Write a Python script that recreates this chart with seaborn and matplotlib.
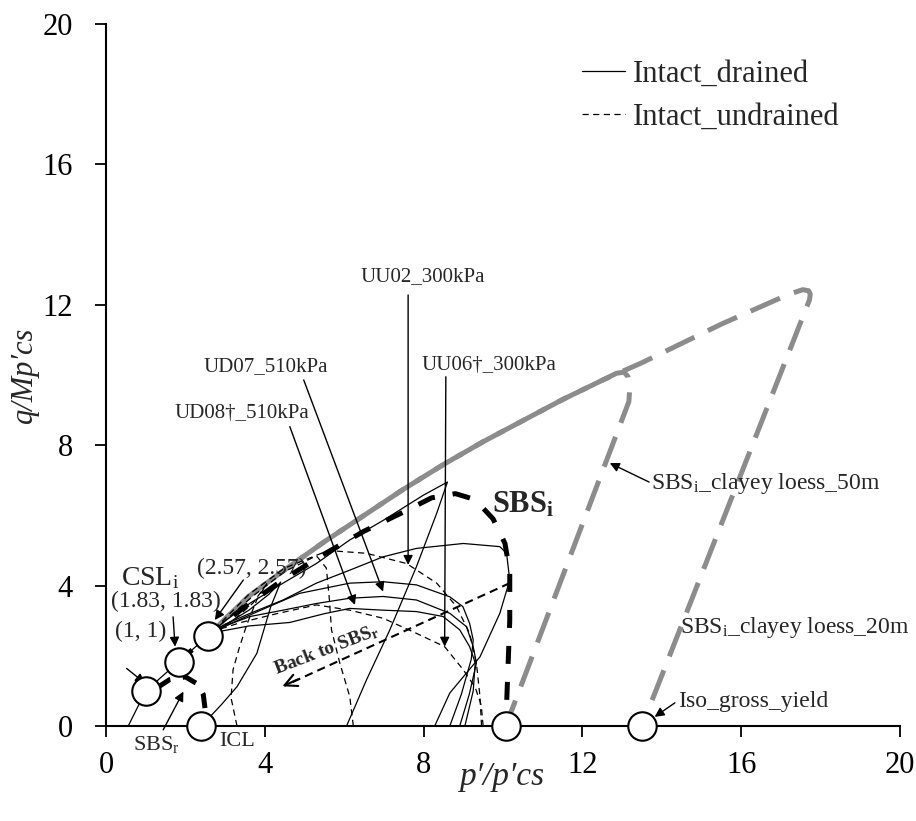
import numpy as np
import pandas as pd
import matplotlib
matplotlib.use("Agg")
import matplotlib.pyplot as plt
import seaborn as sns

# ---- stress-path data (normalised p'/p'cs, q/Mp'cs) ----
# drained tests (solid)
d1_p = [2.4, 2.9, 3.3, 3.8, 4.15, 4.4, 4.1, 3.6, 3.1, 2.7]
d1_q = [0.0, 0.6, 1.12, 2.07, 3.4, 4.1, 3.75, 3.3, 2.95, 2.7]
d2_p = [6.06, 6.56, 7.15, 7.82, 8.33, 8.6, 8.0, 7.0, 6.14, 5.3, 4.46, 3.63, 3.0, 2.65]
d2_q = [0.0, 1.31, 2.74, 4.54, 6.06, 6.95, 6.58, 5.87, 5.3, 4.63, 4.07, 3.5, 3.0, 2.65]
d3_p = [8.28, 8.66, 9.42, 9.92, 10.17, 10.09, 9.92, 9.0, 7.82, 6.98, 6.14, 5.3, 4.46, 3.63, 3.0, 2.65]
d3_q = [0.0, 0.94, 1.97, 3.21, 4.16, 4.92, 5.11, 5.2, 5.06, 4.82, 4.44, 4.07, 3.59, 3.21, 2.9, 2.65]
d4_p = [8.66, 8.95, 9.2, 9.25, 9.16, 8.99, 8.66, 7.82, 6.98, 6.14, 4.88, 4.0, 3.2, 2.65]
d4_q = [0.0, 0.9, 1.9, 2.45, 2.92, 3.4, 3.68, 4.02, 4.11, 4.07, 3.78, 3.35, 2.95, 2.65]
d5_p = [8.91, 9.15, 9.33, 9.25, 9.08, 8.66, 7.82, 6.98, 6.14, 5.3, 4.46, 3.63, 3.0, 2.65]
d5_q = [0.0, 0.9, 1.79, 2.26, 2.83, 3.21, 3.59, 3.69, 3.64, 3.49, 3.3, 3.12, 2.85, 2.65]
d6_p = [9.04, 9.25, 9.3, 9.16, 8.91, 8.49, 7.82, 6.98, 6.14, 5.5, 4.63, 3.6, 2.65]
d6_q = [0.0, 1.0, 1.8, 2.26, 2.74, 3.12, 3.26, 3.3, 3.35, 3.2, 2.95, 2.85, 2.65]

# undrained tests (dashed)
u1_p = [9.46, 9.42, 9.33, 9.16, 8.83, 8.33, 7.57, 6.56, 5.6, 4.5, 3.6, 2.9, 2.6]
u1_q = [0.0, 0.84, 1.79, 2.64, 3.4, 4.07, 4.63, 4.92, 5.0, 4.5, 3.75, 2.95, 2.62]
u2_p = [9.5, 9.45, 9.3, 9.0, 8.53, 7.82, 6.98, 6.14, 5.3, 4.3, 3.4, 2.7]
u2_q = [0.0, 0.6, 1.1, 1.6, 2.26, 2.64, 3.07, 3.3, 3.45, 3.2, 2.95, 2.7]
u3_p = [6.23, 6.14, 5.89, 5.68, 5.62, 5.55, 5.3, 4.5, 3.7, 2.9]
u3_q = [0.0, 0.84, 1.79, 2.74, 3.7, 4.5, 4.85, 4.4, 3.7, 2.9]
u4_p = [3.3, 3.15, 3.2, 3.35, 3.55, 3.8, 4.05, 3.7, 3.2, 2.75]
u4_q = [0.0, 0.8, 1.6, 2.2, 2.9, 3.6, 4.05, 3.5, 3.0, 2.7]

# critical state line and boundary surfaces
csl_p = [0.56, 1.0, 1.83, 2.57]
csl_q = [0.0, 1.0, 1.83, 2.57]
sbsi_p = [1.83, 2.57, 3.5, 4.5, 5.5, 6.5, 7.5, 8.2, 8.8, 9.3, 9.75, 10.05, 10.17, 10.17, 10.12, 10.07]
sbsi_q = [1.83, 2.57, 3.4, 4.2, 4.9, 5.55, 6.1, 6.5, 6.62, 6.45, 5.9, 5.2, 4.4, 3.0, 1.5, 0.0]
sbsr_p = [1.3, 1.6, 2.0, 2.3, 2.45, 2.5]
sbsr_q = [1.1, 1.32, 1.4, 1.2, 0.9, 0.45]
loess50_p = [2.57, 3.0, 3.6, 4.5, 5.5, 6.5, 7.5, 8.5, 9.5, 10.5, 11.5, 12.5, 12.86, 13.05, 13.15, 13.19, 13.17, 10.07]
loess50_q = [2.57, 3.05, 3.7, 4.45, 5.25, 6.0, 6.75, 7.45, 8.1, 8.7, 9.3, 9.85, 10.05, 10.08, 9.95, 9.57, 9.24, 0.0]
loess20_p = [2.57, 3.0, 3.6, 4.5, 5.5, 6.5, 7.5, 8.5, 9.5, 10.5, 11.5, 12.5, 13.5, 14.5, 15.5, 16.5, 17.2, 17.55, 17.7, 17.74, 17.72, 13.5]
loess20_q = [2.57, 3.05, 3.7, 4.45, 5.25, 6.0, 6.75, 7.45, 8.1, 8.7, 9.3, 9.85, 10.35, 10.9, 11.45, 11.95, 12.3, 12.43, 12.4, 12.3, 12.14, 0.0]

# key states (open circles)
pts_p = [1.0, 1.83, 2.57, 2.4, 10.07, 13.5]
pts_q = [1.0, 1.83, 2.57, 0.0, 0.0, 0.0]

sns.set_theme(style="white")
plt.rcParams["font.family"] = ["Liberation Serif", "DejaVu Serif"]
plt.rcParams["mathtext.fontset"] = "custom"
plt.rcParams["mathtext.rm"] = "Liberation Serif"
plt.rcParams["mathtext.it"] = "Liberation Serif:italic"
plt.rcParams["mathtext.bf"] = "Liberation Serif:bold"

fig = plt.figure(figsize=(9.16, 8.21), dpi=100)
ax = fig.add_axes([106 / 916, 1 - 726 / 821, (900 - 106) / 916, (726 - 24) / 821])

GRAY = "#8c8c8c"
thin = 0.9
udash = (0, (5, 3.5))


def path(p, q, **kw):
    df = pd.DataFrame({"p": p, "q": q})
    sns.lineplot(data=df, x="p", y="q", sort=False, estimator=None, ax=ax, **kw)


# boundary surfaces of the clayey loess (two overlapping dashed lines)
path(loess50_p, loess50_q, color=GRAY, lw=3.6, linestyle=(0, (6.4, 3.0)), zorder=2)
path(loess20_p, loess20_q, color=GRAY, lw=3.6, linestyle=(4.5, (6.4, 3.0)), zorder=2)

# drained and undrained stress paths
drained = [(d1_p, d1_q), (d2_p, d2_q), (d3_p, d3_q), (d4_p, d4_q), (d5_p, d5_q), (d6_p, d6_q)]
undrained = [(u1_p, u1_q), (u2_p, u2_q), (u3_p, u3_q), (u4_p, u4_q)]
for i, (p, q) in enumerate(drained):
    path(p, q, color="black", lw=thin, zorder=3,
         label="Intact_drained" if i == 0 else None)
for i, (p, q) in enumerate(undrained):
    path(p, q, color="black", lw=thin, linestyle=udash, zorder=3,
         label="Intact_undrained" if i == 0 else None)

path(csl_p, csl_q, color="black", lw=thin, zorder=3)
path(sbsi_p, sbsi_q, color="black", lw=3.6, linestyle=(0, (3.6, 3.6)), zorder=4)
path(sbsr_p, sbsr_q, color="black", lw=3.6, linestyle=(0, (3.0, 2.5)), zorder=4)

# "back to SBSr" arrow
back_p = [10.17, 4.5]
back_q = [4.07, 1.15]
path(back_p, back_q, color="black", lw=1.5, linestyle=(0, (4, 2.5)), zorder=4)
ax.annotate("", xy=(4.38, 1.1), xytext=(4.9, 1.36),
            arrowprops=dict(arrowstyle="->", lw=1.5, color="black", mutation_scale=22))
ax.text(5.55, 2.17, "Back to SBS$_{\\mathbf{r}}$", fontsize=14, fontweight="bold",
        rotation=21, ha="center", va="center", rotation_mode="anchor")

pts = pd.DataFrame({"p": pts_p, "q": pts_q})
sns.scatterplot(data=pts, x="p", y="q", ax=ax, s=420, facecolor="white",
                edgecolor="black", linewidth=1.5, zorder=6, clip_on=False)

# labels with arrows
arrow_kw = dict(arrowstyle="-|>", lw=1.0, color="black", mutation_scale=14, shrinkA=0, shrinkB=0)
fs = 15
ax.annotate("", xy=(7.61, 4.59), xytext=(7.61, 12.28), arrowprops=arrow_kw)
ax.text(7.98, 12.8, "UU02_300kPa", fontsize=fs, ha="center", va="center")
ax.annotate("", xy=(8.53, 2.26), xytext=(8.56, 9.95), arrowprops=arrow_kw)
ax.text(9.65, 10.28, "UU06\u2020_300kPa", fontsize=fs, ha="center", va="center")
ax.annotate("", xy=(6.98, 3.83), xytext=(4.98, 9.86), arrowprops=arrow_kw)
ax.text(4.03, 10.24, "UD07_510kPa", fontsize=fs, ha="center", va="center")
ax.annotate("", xy=(6.27, 3.45), xytext=(4.63, 8.53), arrowprops=arrow_kw)
ax.text(3.42, 8.91, "UD08\u2020_510kPa", fontsize=fs, ha="center", va="center")

ax.annotate("", xy=(12.69, 7.49), xytext=(13.68, 6.95), arrowprops=arrow_kw)
ax.text(13.73, 6.92, "SBS$_\\mathrm{i}$_clayey loess_50m", fontsize=17, ha="left", va="center")
ax.text(14.45, 2.8, "SBS$_\\mathrm{i}$_clayey loess_20m", fontsize=17, ha="left", va="center")
ax.annotate("", xy=(13.82, 0.26), xytext=(14.33, 0.66), arrowprops=arrow_kw)
ax.text(14.4, 0.71, "Iso_gross_yield", fontsize=17, ha="left", va="center")

ax.text(9.72, 6.3, "SBS$_\\mathbf{i}$", fontsize=22, fontweight="bold", ha="left", va="center")
ax.text(0.39, 4.22, "CSL$_\\mathrm{i}$", fontsize=20, ha="left", va="center")

ax.annotate("", xy=(0.98, 1.22), xytext=(0.52, 1.64), arrowprops=arrow_kw)
ax.text(0.86, 2.68, "(1, 1)", fontsize=17, ha="center", va="center")
ax.annotate("", xy=(1.74, 2.26), xytext=(1.69, 3.11), arrowprops=arrow_kw)
ax.text(1.51, 3.55, "(1.83, 1.83)", fontsize=17, ha="center", va="center")
ax.annotate("", xy=(2.74, 3.02), xytext=(3.46, 4.16), arrowprops=arrow_kw)
ax.text(3.67, 4.5, "(2.57, 2.57)", fontsize=17, ha="center", va="center")

ax.annotate("", xy=(1.95, 0.98), xytext=(1.44, -0.11), arrowprops=arrow_kw,
            annotation_clip=False)
ax.text(1.28, -0.54, "SBS$_\\mathrm{r}$", fontsize=16, ha="center", va="center", clip_on=False)
ax.text(2.85, -0.44, "ICL", fontsize=16, ha="left", va="center", clip_on=False)

# axes
ax.set_xlim(0, 20)
ax.set_ylim(0, 20)
ax.set_xticks(np.arange(0, 21, 4))
ax.set_yticks(np.arange(0, 21, 4))
sns.despine(ax=ax)
for s in ("left", "bottom"):
    ax.spines[s].set_linewidth(1.5)
    ax.spines[s].set_color("black")
ax.tick_params(axis="both", direction="out", length=8, width=1.3, labelsize=22,
               colors="black", left=True, bottom=True)
ax.tick_params(axis="y", pad=16)
ax.tick_params(axis="x", pad=10)
ax.set_xlabel("p\u2032/p\u2032cs", fontsize=24, style="italic", labelpad=-13)
ax.set_ylabel("q/Mp\u2032cs", fontsize=22, style="italic", labelpad=2)

leg = ax.legend(loc="upper left", bbox_to_anchor=(582 / 916, 1 - 60 / 821),
                bbox_transform=fig.transFigure, frameon=False, fontsize=22,
                handlelength=1.4, handletextpad=0.25, labelspacing=0.46,
                borderpad=0, borderaxespad=0)

fig.savefig("out.png", dpi=100)
